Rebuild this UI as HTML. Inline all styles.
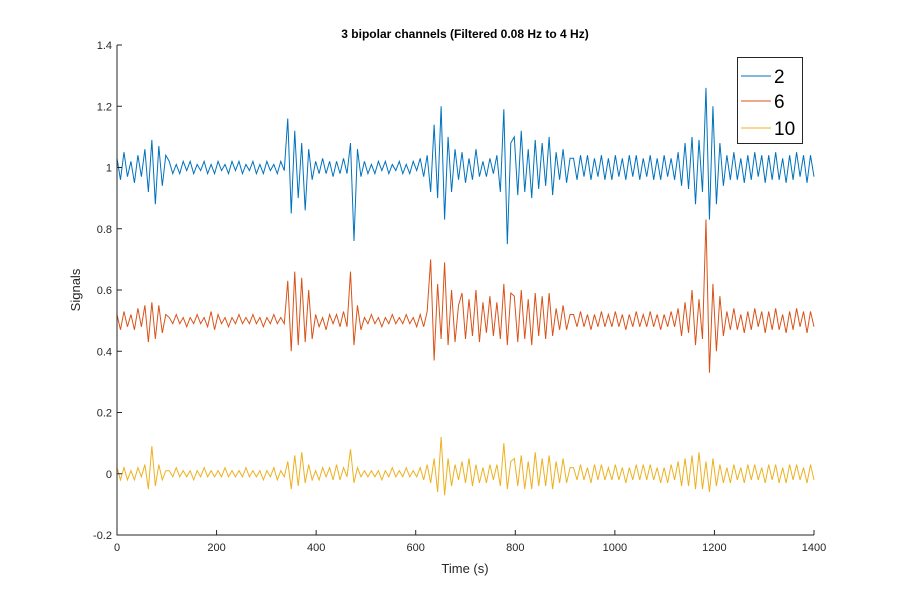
<!DOCTYPE html>
<html><head><meta charset="utf-8"><style>
body{margin:0;background:#fff;}
svg{display:block;font-family:"Liberation Sans",Arial,sans-serif;}
</style></head><body>
<svg id="chart" width="900" height="600"></svg>
<script>
const timeStep = 7;
const seriesNames = ["2","6","10"];
const seriesOffsets = [1, 0.5, 0];
const blueDev = [3,-4,5,-3,2,-5,4,-3,6,-8,9,-12,7,-6,4,
2,-2,1,-2,2,-1,2,-2,1,-1,2,-2,1,-2,2,-1,1,-2,2,-1,2,-2,1,-1,2,-2,1,-2,2,-1,1,-2,2,-1,
16,-15,12,-10,8,-14,6,-4,
2,-2,3,-2,2,-3,2,-2,3,-2,
8,-24,6,-3,
2,-2,1,-2,2,-1,2,-2,1,-1,2,-2,1,-2,2,-1,3,-3,
4,-8,14,-10,20,-17,10,-8,6,-4,
5,-5,3,-4,6,-3,2,-3,3,-2,4,
-8,19,-25,8,
10,-9,12,-8,6,-10,9,-7,8,-6,10,-9,5,-4,6,-5,3,
3,-4,4,-3,4,-4,3,-3,4,-4,3,-4,4,-3,3,-4,4,-3,4,-4,3,-3,4,-4,3,-4,4,-3,3,-4,
5,-6,8,-7,10,-12,9,-8,26,-17,20,-12,8,-6,
4,-4,5,-4,3,-5,4,-4,5,-3,4,-5,4,-4,5,-4,3,-5,4,-4,5,-3,4,-5,4,-3];
const orangeDev = [2,-3,3,-2,2,-3,4,-2,5,-7,6,-6,5,-4,2,
1,-1,2,-1,1,-2,1,-1,2,-1,1,-2,3,-3,2,-1,1,-2,1,-1,2,-1,1,-1,2,-1,1,-2,1,-1,2,-1,1,-1,
13,-10,16,-8,14,-7,10,-6,
2,-2,1,-3,2,-1,2,-2,3,-2,
16,-8,5,-3,
1,-1,2,-1,1,-2,1,-1,2,-1,1,-1,2,-1,1,-2,2,-2,
3,20,-13,12,-6,19,-8,10,-7,5,
9,-6,7,-5,10,-7,6,-4,8,-5,6,
-6,12,-8,9,
8,-7,10,-6,7,-8,9,-5,8,-6,9,-5,4,-3,5,-3,2,
2,-2,3,-2,2,-3,2,-2,3,-2,2,-2,3,-2,2,-3,2,-2,3,-2,2,-2,3,-2,2,-3,2,-2,3,-2,
4,-5,6,-4,10,-8,7,-6,33,-17,12,-10,8,-5,
3,-3,4,-3,2,-4,3,-3,4,-2,3,-4,3,-3,4,-3,2,-4,3,-3,4,-2,3,-4,3,-2];
const yellowDev = [2,-2,2,-2,1,-2,2,-1,3,-5,9,-4,3,-2,1,
1,-1,2,-1,1,-1,1,-2,1,-1,2,-1,1,-1,1,-1,2,-1,1,-1,1,-1,2,-1,1,-1,1,-2,1,-1,2,-2,1,-1,
4,-5,6,-4,7,-3,3,-2,
1,-2,2,-1,2,-2,3,-2,2,-1,
8,-3,2,-1,
1,-1,1,-1,1,-2,1,-1,2,-1,1,-1,2,-1,1,-1,2,-2,
3,-3,5,-6,12,-7,5,-4,3,-2,
4,-3,5,-4,3,-3,2,-3,3,-2,3,
-4,10,-5,4,
5,-4,6,-5,4,-5,7,-4,5,-4,6,-5,4,-3,5,-3,2,
2,-2,3,-2,2,-3,3,-2,3,-2,2,-2,3,-2,2,-3,2,-2,3,-2,3,-2,3,-2,2,-3,2,-3,3,-2,
4,-4,5,-4,6,-5,7,-5,4,-6,5,-4,3,-3,
2,-3,3,-2,2,-3,3,-2,3,-2,2,-3,3,-2,3,-3,2,-3,3,-2,3,-2,2,-3,3,-2];
const xTicks = [0,200,400,600,800,1000,1200,1400];
const yTicks = [-0.2,0,0.2,0.4,0.6,0.8,1,1.2,1.4];
const colors = ["#0072BD","#D95319","#EDB120"];

const L=117,R=814,T=45,B=535;
const xs = v => L + (v-0)/1400*(R-L);
const ys = v => B - (v+0.2)/1.6*(B-T);
const NS="http://www.w3.org/2000/svg";
const svg=document.getElementById('chart');
function mk(tag,attrs,parent){const e=document.createElementNS(NS,tag);for(const k in attrs)e.setAttribute(k,attrs[k]);(parent||svg).appendChild(e);return e;}

const bg=mk('rect',{x:L,y:T,width:R-L,height:B-T,fill:'#fff'});



const devs=[blueDev,orangeDev,yellowDev];
devs.forEach((d,si)=>{
  const pts=d.map((v,i)=>xs(i*timeStep).toFixed(2)+','+ys(seriesOffsets[si]+v/100).toFixed(2)).join(' ');
  const pl=mk('polyline',{points:pts,fill:'none',stroke:colors[si],'stroke-width':1});
  
  
});

const ax=mk('path',{d:`M${L},${T}V${B}H${R}`,fill:'none',stroke:'#262626','stroke-width':1});



xTicks.forEach(t=>{
  const x=xs(t);
  mk('line',{x1:x,x2:x,y1:B,y2:B-5,stroke:'#262626'});
  const tx=mk('text',{x:x,y:B+16,'text-anchor':'middle','font-size':11,fill:'#262626'});
  tx.textContent=t;
  
  
});
yTicks.forEach(t=>{
  const y=ys(t);
  mk('line',{x1:L,x2:L+5,y1:y,y2:y,stroke:'#262626'});
  const tx=mk('text',{x:L-5,y:y+4,'text-anchor':'end','font-size':11,fill:'#262626'});
  tx.textContent=String(+t.toFixed(1));
  
  
});

const ti=mk('text',{x:465,y:38,'text-anchor':'middle','font-size':12,'font-weight':'bold',fill:'#000'});
ti.textContent='3 bipolar channels (Filtered 0.08 Hz to 4 Hz)';



const xl=mk('text',{x:465,y:573,'text-anchor':'middle','font-size':13,fill:'#262626'});
xl.textContent='Time (s)';



const yl=mk('text',{x:0,y:0,'text-anchor':'middle','font-size':13,fill:'#262626',transform:`translate(80,${(T+B)/2}) rotate(-90)`});
yl.textContent='Signals';



const lg=mk('g',{});


mk('rect',{x:737.5,y:57.5,width:65,height:86,fill:'#fff',stroke:'#262626','stroke-width':1},lg);
[76,101,128].forEach((y,i)=>{
  const ln=mk('line',{x1:741,x2:771,y1:y,y2:y,stroke:colors[i],'stroke-width':1},lg);
  
  
  const tx=mk('text',{x:774,y:y+7,'font-size':19,fill:'#000'},lg);
  tx.textContent=seriesNames[i];
  
  
});
</script>
</body></html>
